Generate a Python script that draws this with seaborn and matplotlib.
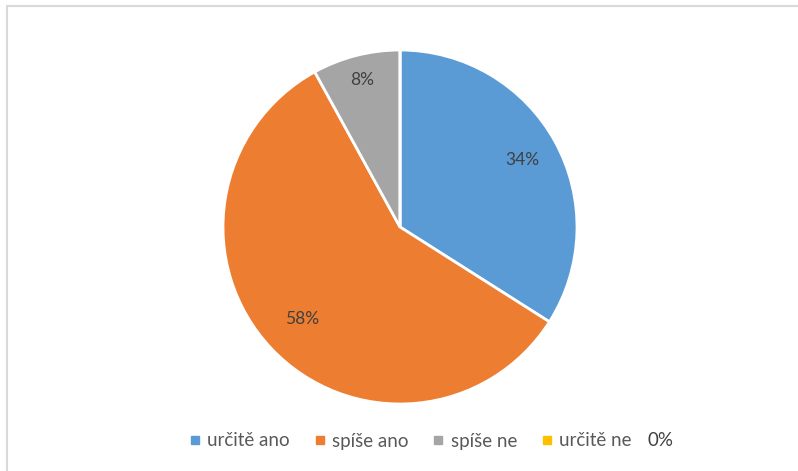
import matplotlib.pyplot as plt
import seaborn as sns
import numpy as np
from matplotlib.lines import Line2D
from matplotlib.patches import Rectangle

# data
labels = ['určitě ano', 'spíše ano', 'spíše ne', 'určitě ne']
values = [34, 58, 8, 0]
pct_text = ['34%', '58%', '8%', '0%']
colors = ['#5B9BD5', '#ED7D31', '#A5A5A5', '#FFC000']

sns.set_theme(style='white')
plt.rcParams['font.family'] = ['Lato', 'DejaVu Sans']

fig = plt.figure(figsize=(7.98, 4.71), dpi=100)
# light frame like the office chart area
fig.patches.append(Rectangle((7 / 798, -0.1), 1.2, 1 - 6 / 471 + 0.1, transform=fig.transFigure,
                             fill=False, edgecolor='#D9D9D9', linewidth=1.5))

r = 177
ax = fig.add_axes([(400 - r) / 798, (471 - 227 - r) / 471, 2 * r / 798, 2 * r / 471])
wedges, _ = ax.pie(values, colors=colors, startangle=90, counterclock=False,
                   wedgeprops=dict(edgecolor='white', linewidth=2))
ax.set_xlim(-1, 1)
ax.set_ylim(-1, 1)
ax.set_aspect('equal')
ax.axis('off')

# data labels inside slices
dists = [0.79, 0.76, 0.86]
for w, txt, d in zip(wedges[:3], pct_text[:3], dists):
    ang = np.deg2rad((w.theta1 + w.theta2) / 2)
    ax.text(d * np.cos(ang), d * np.sin(ang), txt, ha='center', va='center',
            fontsize=12.5, color='#404040')

handles = [Line2D([], [], marker='s', linestyle='', markersize=6, color=c) for c in colors]
fig.legend(handles, labels, loc='center', bbox_to_anchor=(410 / 798, 1 - 441 / 471),
           ncol=4, frameon=False, fontsize=13.5, labelcolor='#595959',
           handlelength=0.7, handletextpad=0.3, columnspacing=1.25)
fig.text(647 / 798, 1 - 441 / 471, pct_text[3], ha='left', va='center',
         fontsize=13.5, color='#404040')

fig.savefig('out.png', dpi=100)
